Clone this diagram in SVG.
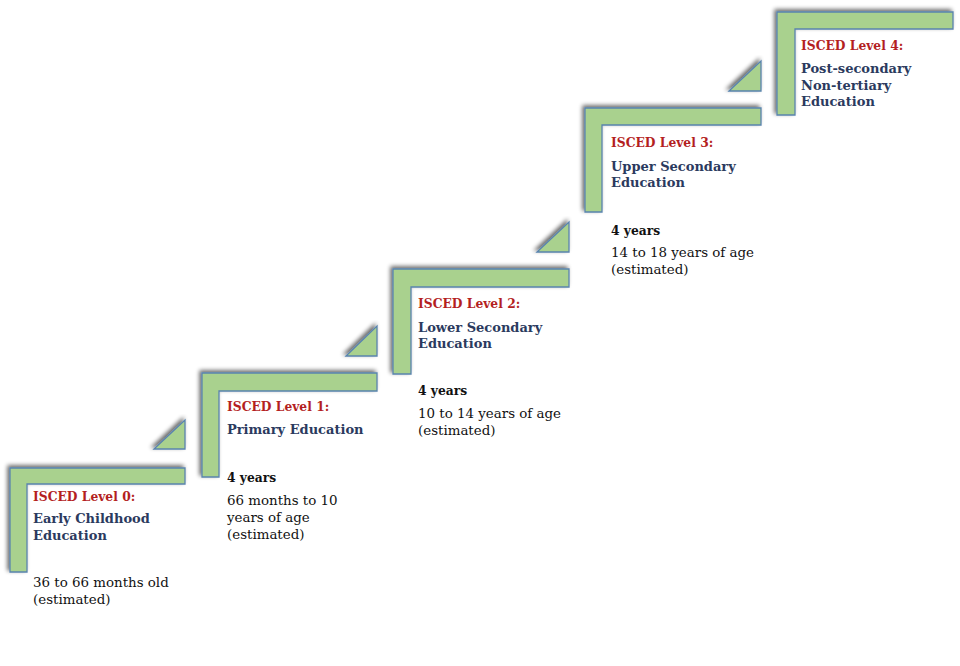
<svg xmlns="http://www.w3.org/2000/svg" width="960" height="666" viewBox="0 0 960 666">
<defs>
<filter id="sh" x="-20%" y="-20%" width="140%" height="140%">
<feGaussianBlur in="SourceAlpha" stdDeviation="2" result="b"/>
<feOffset in="b" dx="-2.5" dy="-2.5" result="o"/>
<feComponentTransfer in="o" result="s"><feFuncA type="linear" slope="0.6"/></feComponentTransfer>
<feMerge><feMergeNode in="s"/><feMergeNode in="SourceGraphic"/></feMerge>
</filter>
</defs>
<style>
.shape{fill:#a9d18e;stroke:#5a84ad;stroke-width:1.3;filter:url(#sh)}
text{font-family:"DejaVu Serif","Liberation Serif",serif}
.t{fill:#b41f1f;font-weight:bold;font-size:12.3px}
.n{fill:#2b3a5e;font-weight:bold;font-size:13px}
.y{fill:#111;font-weight:bold;font-size:12.3px}
.d{fill:#111;font-size:13.4px}
</style>
<rect width="960" height="666" fill="#fff"/>
<g id="connectors">
<path class="shape" d="M154,449 L185,420 L185,449 Z"/>
<path class="shape" d="M346,356 L377,326 L377,356 Z"/>
<path class="shape" d="M537,252 L569,222 L569,252 Z"/>
<path class="shape" d="M729,91 L761,61 L761,91 Z"/>
</g>
<g id="level0">
<path class="shape" d="M10,468 H185 V484 H27 V572 H10 Z"/>
<text class="t" x="33" y="501">ISCED Level 0:</text>
<text class="n" x="33" y="523">Early Childhood</text>
<text class="n" x="33" y="540">Education</text>
<text class="d" x="33" y="587">36 to 66 months old</text>
<text class="d" x="33" y="604">(estimated)</text>
</g>
<g id="level1">
<path class="shape" d="M202,373 H377 V391 H219 V477 H202 Z"/>
<text class="t" x="227" y="411">ISCED Level 1:</text>
<text class="n" x="227" y="434">Primary Education</text>
<text class="y" x="227" y="482">4 years</text>
<text class="d" x="227" y="505">66 months to 10</text>
<text class="d" x="227" y="522">years of age</text>
<text class="d" x="227" y="539">(estimated)</text>
</g>
<g id="level2">
<path class="shape" d="M393,269 H569 V287 H411 V374 H393 Z"/>
<text class="t" x="418" y="308">ISCED Level 2:</text>
<text class="n" x="418" y="332">Lower Secondary</text>
<text class="n" x="418" y="348">Education</text>
<text class="y" x="418" y="395">4 years</text>
<text class="d" x="418" y="418">10 to 14 years of age</text>
<text class="d" x="418" y="435">(estimated)</text>
</g>
<g id="level3">
<path class="shape" d="M585,108 H761 V125 H602 V212 H585 Z"/>
<text class="t" x="611" y="147">ISCED Level 3:</text>
<text class="n" x="611" y="171">Upper Secondary</text>
<text class="n" x="611" y="187">Education</text>
<text class="y" x="611" y="235">4 years</text>
<text class="d" x="611" y="257">14 to 18 years of age</text>
<text class="d" x="611" y="274">(estimated)</text>
</g>
<g id="level4">
<path class="shape" d="M777,12 H953 V29 H795 V115 H777 Z"/>
<text class="t" x="801" y="50">ISCED Level 4:</text>
<text class="n" x="801" y="73">Post-secondary</text>
<text class="n" x="801" y="90">Non-tertiary</text>
<text class="n" x="801" y="106">Education</text>
</g>
</svg>
